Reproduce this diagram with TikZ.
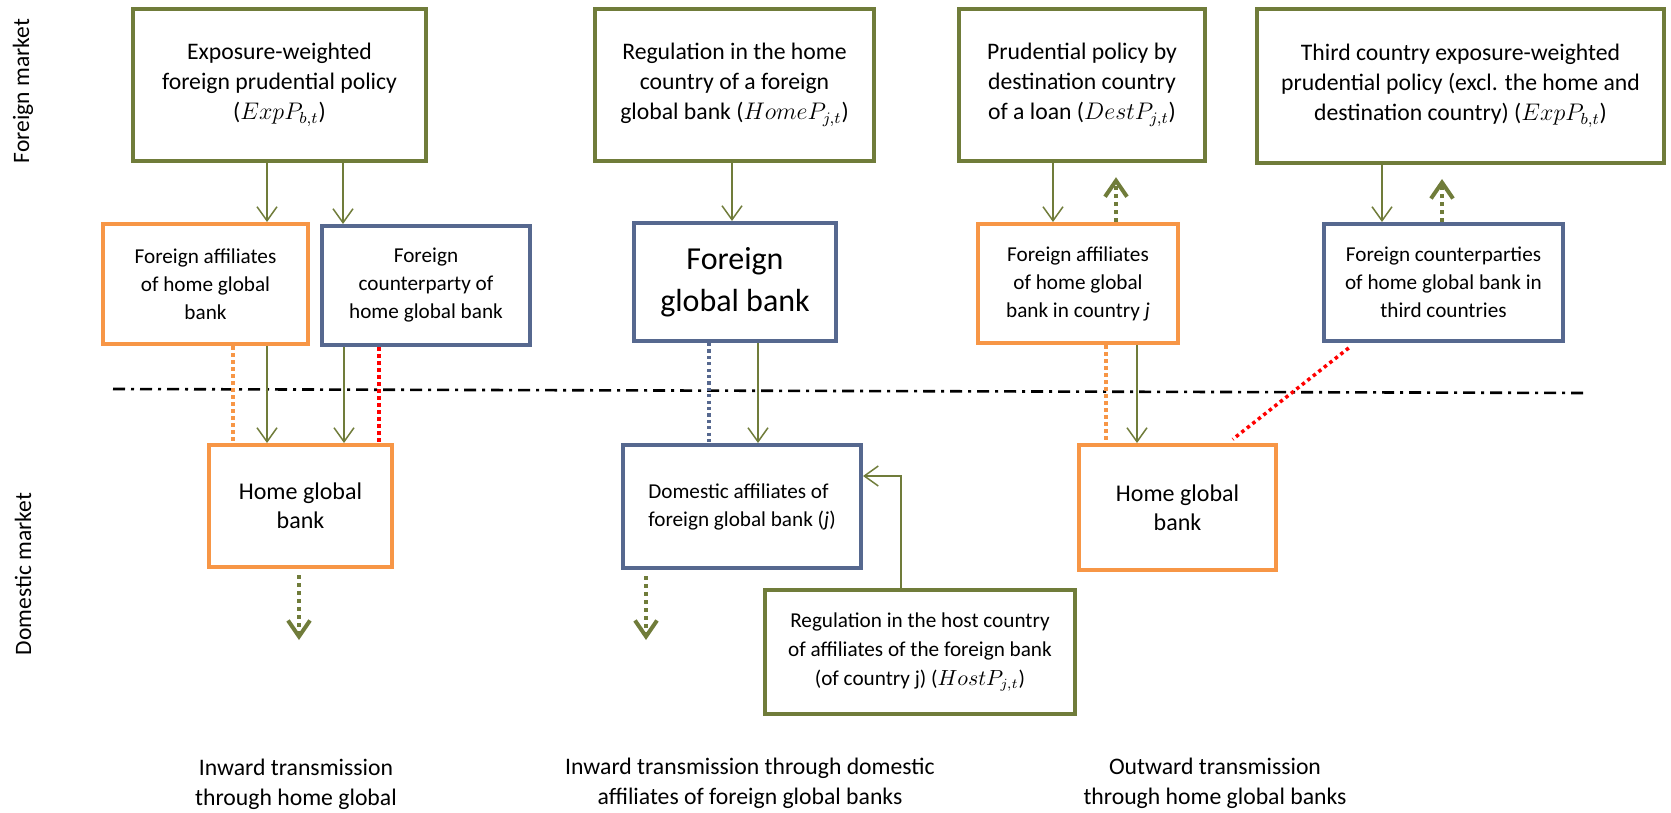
\documentclass[tikz,border=0pt]{standalone}
\usepackage{fontspec}
\setmainfont{Carlito}
\usetikzlibrary{arrows.meta}
\definecolor{olivebox}{RGB}{112,124,58}
\definecolor{orangebox}{RGB}{247,150,70}
\definecolor{slatebox}{RGB}{86,104,143}
\begin{document}
\begin{tikzpicture}[x=0.5pt, y=-0.5pt, >={Straight Barb[length=7pt,width=10pt]}]
\tikzset{
  box/.style={
    draw, rectangle, line width=2.2pt, fill=white,
    inner sep=0pt, align=center
  },
  policy/.style={box, draw=olivebox, font=\fontsize{11.85}{15}\selectfont},
  homebank/.style={box, draw=orangebox},
  foreignbank/.style={box, draw=slatebox},
  small/.style={font=\fontsize{10.6}{14}\selectfont},
  flow/.style={->, draw=olivebox, line width=.75pt},
  spill/.style={-{Straight Barb[length=8pt,width=11pt]}, draw=olivebox, line width=2pt, dash pattern=on 2pt off 2pt},
  link/.style={line width=1.75pt, dash pattern=on 1.75pt off 1.75pt},
  side/.style={rotate=90, font=\fontsize{11.75}{14}\selectfont},
  channel/.style={align=center, font=\fontsize{11.85}{15}\selectfont}
}
\useasboundingbox (0,0) rectangle (1671,813);

\coordinate (borderL) at (113,389);
\coordinate (borderR) at (1588,393);
\draw[line width=1.3pt, dash pattern=on 6pt off 3pt on 1.5pt off 3pt] (borderL) -- (borderR);

\node[side] (foreignlbl)  at (23,91) {Foreign market};
\node[side] (domesticlbl) at (23,574) {Domestic market};

\node[policy, minimum width=146.5pt, minimum height=76pt] (expw)     at (279.5,85) {Exposure-weighted\\foreign prudential policy\\(\(ExpP_{b,t}\))};
\node[policy, minimum width=139.3pt, minimum height=76pt] (homereg)  at (734.5,85) {Regulation in the home\\country of a foreign\\global bank (\(HomeP_{j,t}\))};
\node[policy, minimum width=122.8pt, minimum height=76pt] (destreg)  at (1082,85) {Prudential policy by\\destination country\\of a loan (\(DestP_{j,t}\))};
\node[policy, minimum width=203.3pt, minimum height=76.8pt] (thirdreg) at (1460.5,86) {Third country exposure-weighted\\prudential policy (excl. the home and\\destination country) (\(ExpP_{b,t}\))};

\node[homebank, small, minimum width=102.3pt, minimum height=59.8pt] (affhome)      at (205.5,284) {Foreign affiliates\\of home global\\bank};
\node[foreignbank, small, minimum width=103.8pt, minimum height=59.3pt] (cpty)      at (426,285.5) {Foreign\\counterparty of\\home global bank};
\node[foreignbank, font=\fontsize{16}{21}\selectfont, minimum width=100.8pt, minimum height=58.8pt] (fgbank) at (735,282) {Foreign\\global bank};
\node[homebank, small, minimum width=99.8pt, minimum height=59.3pt] (affdest)       at (1078,283.5) {Foreign affiliates\\of home global\\bank in country \textit{j}};
\node[foreignbank, small, minimum width=119.3pt, minimum height=58.3pt] (cptythird) at (1443.5,282.5) {Foreign counterparties\\of home global bank in\\third countries};

\node[homebank, font=\fontsize{12}{14.5}\selectfont, minimum width=91.3pt, minimum height=60.8pt] (homeA) at (300.5,506) {Home global\\bank};
\node[foreignbank, small, align=left, minimum width=118.8pt, minimum height=61.3pt] (domaff) at (742,506.5) {Domestic affiliates of\\foreign global bank (\textit{j})};
\node[policy, small, font=\fontsize{10.6}{14.5}\selectfont, minimum width=154.8pt, minimum height=61.8pt] (hostreg) at (920,652) {Regulation in the host country\\of affiliates of the foreign bank\\(of country j) (\(HostP_{j,t}\))};
\node[homebank, font=\fontsize{12}{14.5}\selectfont, minimum width=98.3pt, minimum height=62.3pt] (homeB) at (1177.5,507.5) {Home global\\bank};

\coordinate (homeAout)  at (299,640);
\coordinate (domaffout) at (646,640);

\draw[flow] (expw.south -| 267,0) -- (affhome.north -| 267,0);
\draw[flow] (expw.south -| 343,0) -- (cpty.north -| 343,0);
\draw[link, draw=orangebox] (affhome.south -| 233,0) -- (homeA.north -| 233,0);
\draw[flow] (affhome.south -| 267,0) -- (homeA.north -| 267,0);
\draw[flow] (cpty.south -| 344,0) -- (homeA.north -| 344,0);
\draw[link, draw=red] (cpty.south -| 379,0) -- (homeA.north -| 379,0);
\draw[spill, shorten <=3pt] (homeA.south -| 299,0) -- (homeAout);

\draw[flow] (homereg.south -| 732,0) -- (fgbank.north -| 732,0);
\draw[link, draw=slatebox, line width=1.6pt, dash pattern=on 1.6pt off 1.6pt] (fgbank.south -| 709,0) -- (domaff.north -| 709,0);
\draw[flow] (fgbank.south -| 758,0) -- (domaff.north -| 758,0);
\draw[flow] (hostreg.north -| 901,0) |- (domaff.east |- 0,476);
\draw[spill, shorten <=3pt] (domaff.south -| 646,0) -- (domaffout);

\draw[flow] (destreg.south -| 1053,0) -- (affdest.north -| 1053,0);
\draw[spill, shorten >=7pt] (affdest.north -| 1116,0) -- (destreg.south -| 1116,0);
\draw[flow] (thirdreg.south -| 1382,0) -- (cptythird.north -| 1382,0);
\draw[spill, shorten >=7pt] (cptythird.north -| 1442,0) -- (thirdreg.south -| 1442,0);
\draw[link, draw=orangebox] (affdest.south -| 1106,0) -- (homeB.north -| 1106,0);
\draw[flow] (affdest.south -| 1137,0) -- (homeB.north -| 1137,0);
\draw[link, draw=red, shorten <=4pt, shorten >=3pt] (cptythird.south -| 1355,0) -- (homeB.north -| 1228,0);

\node[channel] (inhome)    at (296,784)  {Inward transmission\\through home global};
\node[channel] (inforeign) at (750,783)  {Inward transmission through domestic\\affiliates of foreign global banks};
\node[channel] (outhome)   at (1215,783) {Outward transmission\\through home global banks};
\end{tikzpicture}
\end{document}
